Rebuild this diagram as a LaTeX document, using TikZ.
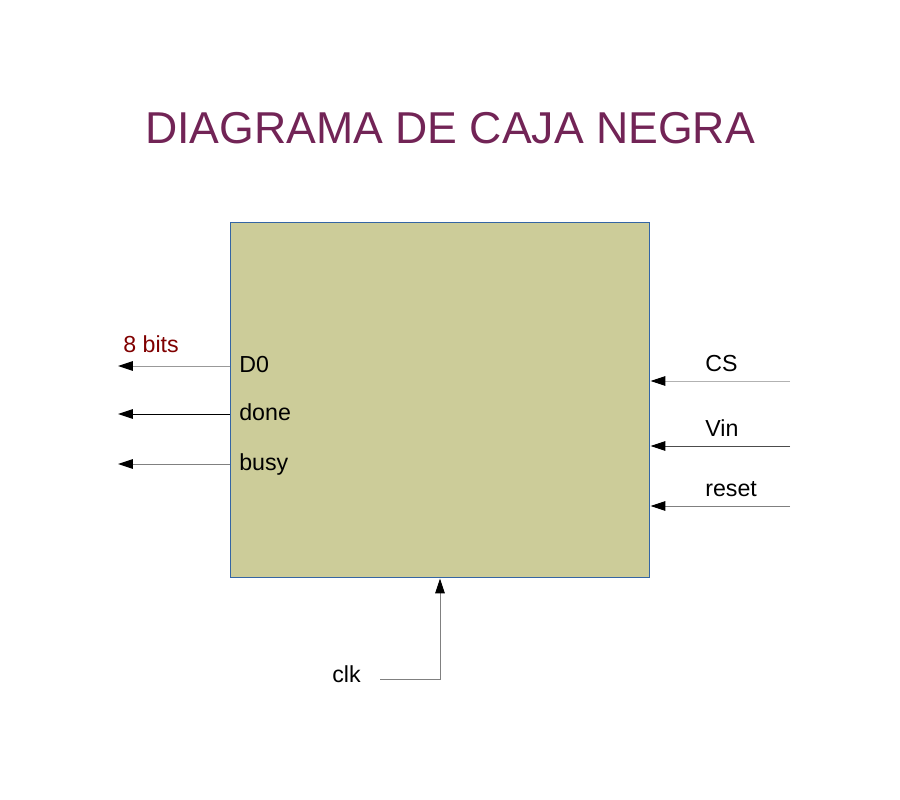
\documentclass[tikz,border=0pt]{standalone}
\usepackage{fontspec}
\setmainfont{Liberation Sans}
\usetikzlibrary{arrows.meta,positioning}
\definecolor{cajafill}{RGB}{204,204,153}
\definecolor{cajaborde}{RGB}{52,101,164}
\definecolor{titulo}{RGB}{114,36,86}
\definecolor{bitscolor}{RGB}{128,0,0}

\begin{document}
\begin{tikzpicture}[
    x=0.02cm, y=-0.02cm,
    senal/.style={font=\fontsize{13.2}{15}\selectfont, inner sep=0pt, anchor=base west},
    flecha/.style={-{Triangle[length=8.5pt, width=5.5pt, color=black]}, line width=0.55pt}
]
\useasboundingbox (0,0) rectangle (900,800);

% Titulo
\node[text=titulo, font=\fontsize{25.4}{30}\selectfont] (titulo) at (450,128) {DIAGRAMA DE CAJA NEGRA};

% Caja negra
\node[draw=cajaborde, fill=cajafill, line width=0.6pt, inner sep=0pt,
      minimum width=8.4cm, minimum height=7.12cm] (caja) at (440,400) {};

% ============ Salidas ============
\node[senal] (d0) at (239,373) {D0};
\node[senal] (done) at (239,421) {done};
\node[senal] (busy) at (239,471) {busy};
\node[senal, text=bitscolor] (bits) at (123,353) {8 bits};

\coordinate (d0fin) at (118,366);
\coordinate (donefin) at (118,414);
\coordinate (busyfin) at (118,464);
\draw[flecha, black!40] (caja.west |- d0fin) -- (d0fin);
\draw[flecha, black] (caja.west |- donefin) -- (donefin);
\draw[flecha, black!50] (caja.west |- busyfin) -- (busyfin);

% ============ Entradas ============
\node[senal] (cs) at (705,372) {CS};
\node[senal] (vin) at (705,437) {Vin};
\node[senal] (reset) at (705,497) {reset};

\coordinate (csini) at (790,381);
\coordinate (vinini) at (790,446);
\coordinate (resetini) at (790,506);
\draw[flecha, black!30] (csini) -- (caja.east |- csini);
\draw[flecha, black!70] (vinini) -- (caja.east |- vinini);
\draw[flecha, black!50] (resetini) -- (caja.east |- resetini);

% Reloj
\node[senal] (clk) at (332,683) {clk};
\coordinate (clkini) at (380,679);
\draw[flecha, black!50] (clkini) -| (caja.south);

\end{tikzpicture}
\end{document}
